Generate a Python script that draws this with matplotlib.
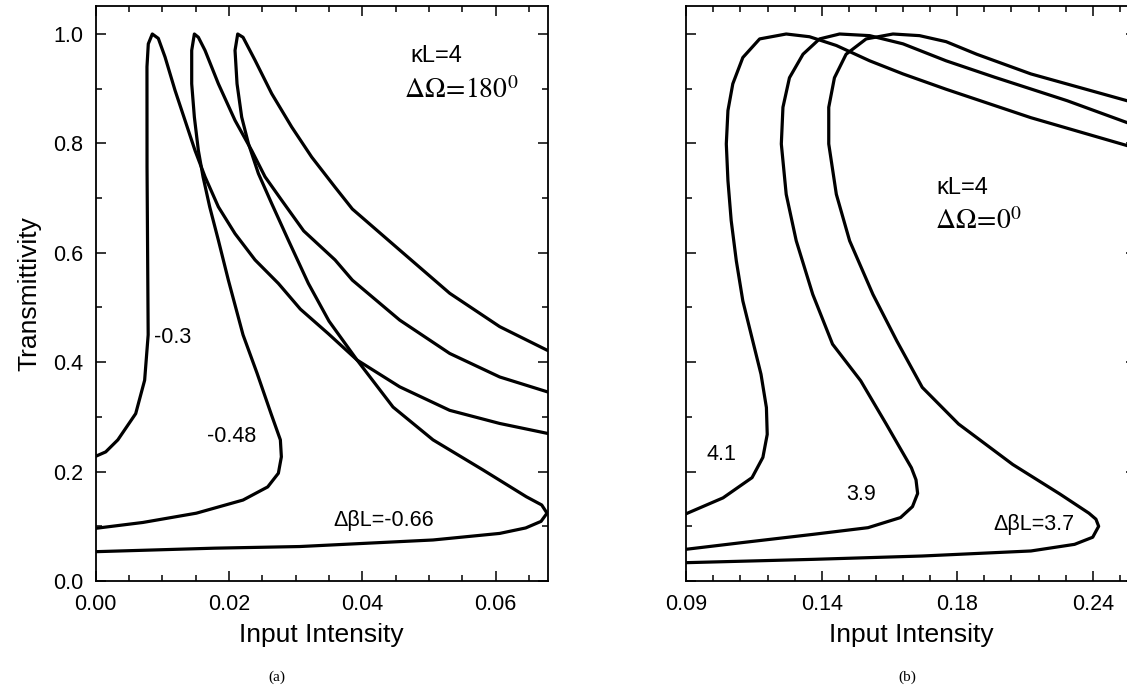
import matplotlib
matplotlib.use("Agg")
from matplotlib import pyplot as plt
from matplotlib.ticker import MultipleLocator, FixedLocator, FixedFormatter

plt.rcParams['font.family'] = ['Liberation Sans', 'DejaVu Sans']
plt.rcParams['mathtext.fontset'] = 'stix'

# panel (a): kL=4, dOmega=180 deg, curves traced along the S-shape
a_labels = ["-0.3", "-0.48", "-0.66"]
a_x_03 = [0, 0.0015, 0.00332, 0.0060, 0.00734, 0.00787, 0.0077, 0.00769, 0.00789,
          0.00849, 0.00939, 0.0104, 0.0119, 0.0134, 0.0149, 0.0164, 0.0184,
          0.0209, 0.0239, 0.0274, 0.0307, 0.0349, 0.0392, 0.0456, 0.0531,
          0.0606, 0.0677]
a_y_03 = [0.228, 0.236, 0.258, 0.306, 0.367, 0.450, 0.757, 0.940, 0.982,
          1.0, 0.992, 0.958, 0.897, 0.842, 0.787, 0.739, 0.684,
          0.635, 0.587, 0.544, 0.497, 0.452, 0.404, 0.355, 0.312,
          0.288, 0.270]
a_x_048 = [0, 0.00707, 0.0151, 0.0221, 0.0258, 0.0274, 0.02785, 0.0277, 0.0263,
           0.0242, 0.0221, 0.0199, 0.0184, 0.0171, 0.0161, 0.0154, 0.0148,
           0.0144, 0.0144, 0.0148, 0.0154, 0.0164, 0.0184, 0.0209, 0.0234,
           0.0254, 0.0279, 0.0312, 0.0359, 0.0385, 0.0456, 0.0531, 0.0606, 0.0677]
a_y_048 = [0.0963, 0.107, 0.124, 0.148, 0.172, 0.197, 0.227, 0.258, 0.306,
           0.380, 0.450, 0.550, 0.623, 0.684, 0.739, 0.787, 0.848,
           0.909, 0.970, 1.0, 0.994, 0.970, 0.909, 0.842, 0.787,
           0.739, 0.696, 0.640, 0.587, 0.550, 0.477, 0.416, 0.373, 0.346]
a_x_066 = [0, 0.01778, 0.0306, 0.0406, 0.0506, 0.0606, 0.0645, 0.0668, 0.0677,
           0.0669, 0.0646, 0.0581, 0.0506, 0.0446, 0.0392, 0.0350, 0.0319,
           0.0289, 0.0264, 0.0244, 0.0229, 0.0219, 0.0212, 0.0209, 0.0213,
           0.0221, 0.0239, 0.0264, 0.0294, 0.0324, 0.0359, 0.0385, 0.0456,
           0.0531, 0.0606, 0.0677]
a_y_066 = [0.0536, 0.0600, 0.063, 0.069, 0.075, 0.087, 0.097, 0.109, 0.124,
           0.139, 0.154, 0.203, 0.258, 0.318, 0.404, 0.475, 0.544,
           0.623, 0.690, 0.745, 0.800, 0.848, 0.909, 0.970, 1.0,
           0.994, 0.952, 0.891, 0.830, 0.775, 0.720, 0.680, 0.605,
           0.526, 0.465, 0.422]

# panel (b): kL=4, dOmega=0 deg
b_labels = ["4.1", "3.9", "3.7"]
b_x_41 = [0.09, 0.1036, 0.1143, 0.1183, 0.1199, 0.1196, 0.1176, 0.1150, 0.1109,
          0.1085, 0.1066, 0.1054, 0.1048, 0.1054, 0.1072, 0.1109, 0.1171, 0.1269,
          0.1355, 0.1454, 0.1577, 0.1700, 0.1859, 0.2172, 0.2527]
b_y_41 = [0.123, 0.152, 0.189, 0.226, 0.268, 0.317, 0.378, 0.430, 0.512,
          0.585, 0.659, 0.732, 0.799, 0.860, 0.909, 0.957, 0.991, 1.0,
          0.995, 0.979, 0.951, 0.927, 0.899, 0.847, 0.796]
b_x_39 = [0.09, 0.1103, 0.1370, 0.1571, 0.1691, 0.1735, 0.1754, 0.1748, 0.1731,
          0.1638, 0.1544, 0.1440, 0.1367, 0.1306, 0.1269, 0.1251, 0.1257, 0.1281,
          0.1331, 0.1392, 0.1466, 0.1577, 0.1700, 0.1859, 0.2038, 0.2306, 0.2527]
b_y_39 = [0.058, 0.070, 0.0854, 0.0975, 0.116, 0.136, 0.160, 0.185, 0.207,
          0.287, 0.366, 0.433, 0.524, 0.622, 0.707, 0.799, 0.866, 0.920,
          0.963, 0.991, 1.0, 0.997, 0.982, 0.951, 0.921, 0.878, 0.838]
b_x_37 = [0.09, 0.1370, 0.1771, 0.2172, 0.2333, 0.2400, 0.2422, 0.2412, 0.2386,
          0.2279, 0.2105, 0.1905, 0.1771, 0.1677, 0.1589, 0.1503, 0.1454, 0.1426,
          0.1426, 0.1447, 0.1490, 0.1564, 0.1663, 0.1761, 0.1859, 0.1972, 0.2172,
          0.2527]
b_y_37 = [0.0335, 0.0396, 0.0457, 0.0549, 0.067, 0.080, 0.100, 0.113, 0.124,
          0.159, 0.213, 0.287, 0.354, 0.439, 0.524, 0.622, 0.707, 0.799,
          0.866, 0.920, 0.963, 0.991, 1.0, 0.997, 0.986, 0.963, 0.927,
          0.878]

b_ticks = [0.09, 0.14, 0.19, 0.24]
b_ticklabels = ["0.09", "0.14", "0.18", "0.24"]

W, H = 1127, 685
fig = plt.figure(figsize=(W / 100, H / 100), dpi=100)
ax1 = fig.add_axes([95.7 / W, 1 - 581 / H, 452 / W, 575 / H])
ax2 = fig.add_axes([686.2 / W, 1 - 581 / H, 450 / W, 575 / H])

lw = 2.3
for xs, ys in [(a_x_03, a_y_03), (a_x_048, a_y_048), (a_x_066, a_y_066)]:
    ax1.plot(xs, ys, color='black', lw=lw, solid_joinstyle='round')
for xs, ys in [(b_x_41, b_y_41), (b_x_39, b_y_39), (b_x_37, b_y_37)]:
    ax2.plot(xs, ys, color='black', lw=lw, solid_joinstyle='round')

ax1.set_xlim(0, 0.0678)
ax2.set_xlim(0.09, 0.09 + 450 / 2710)
for ax in (ax1, ax2):
    ax.set_ylim(0, 575 / 547)
    ax.yaxis.set_major_locator(MultipleLocator(0.2))
    ax.yaxis.set_minor_locator(MultipleLocator(0.1))
    ax.tick_params(which='both', direction='in', top=True, right=True,
                   labelsize=15.5, width=1.1)
    ax.tick_params(which='major', length=7, pad=9)
    ax.tick_params(which='minor', length=4)
    for s in ax.spines.values():
        s.set_linewidth(1.3)
    ax.set_xlabel("Input Intensity", fontsize=19, labelpad=6)

ax1.xaxis.set_major_locator(MultipleLocator(0.02))
ax1.xaxis.set_minor_locator(MultipleLocator(0.005))
ax1.xaxis.set_major_formatter(plt.FormatStrFormatter('%.2f'))
ax1.yaxis.set_major_formatter(plt.FormatStrFormatter('%.1f'))
ax1.set_ylabel("Transmittivity", fontsize=19, labelpad=8)

ax2.xaxis.set_major_locator(FixedLocator(b_ticks))
ax2.xaxis.set_major_formatter(FixedFormatter(b_ticklabels))
ax2.xaxis.set_minor_locator(MultipleLocator(0.01))
ax2.tick_params(axis='y', labelleft=False)

# annotations panel (a)
ax1.text(0.0472, 0.96, "κL=4", fontsize=17, va='center')
ax1.text(0.0462, 0.897, r"$\Delta\Omega\!=\!180^0$", fontsize=20, va='center')
ax1.text(0.00868, 0.446, a_labels[0], fontsize=15.5, va='center')
ax1.text(0.0167, 0.264, a_labels[1], fontsize=15.5, va='center')
ax1.text(0.0357, 0.111, "ΔβL=" + a_labels[2], fontsize=15.5, va='center')

# annotations panel (b)
ax2.text(0.1825, 0.719, "κL=4", fontsize=17, va='center')
ax2.text(0.1818, 0.658, r"$\Delta\Omega\!=\!0^0$", fontsize=20, va='center')
ax2.text(0.0976, 0.232, b_labels[0], fontsize=15.5, va='center')
ax2.text(0.149, 0.159, b_labels[1], fontsize=15.5, va='center')
ax2.text(0.2033, 0.104, "ΔβL=" + b_labels[2], fontsize=15.5, va='center')

fig.text(277 / W, 1 - 677 / H, "(a)", fontsize=11, family='Liberation Serif',
         ha='center', va='center')
fig.text(907 / W, 1 - 677 / H, "(b)", fontsize=11, family='Liberation Serif',
         ha='center', va='center')

fig.savefig("out.png", dpi=100)
